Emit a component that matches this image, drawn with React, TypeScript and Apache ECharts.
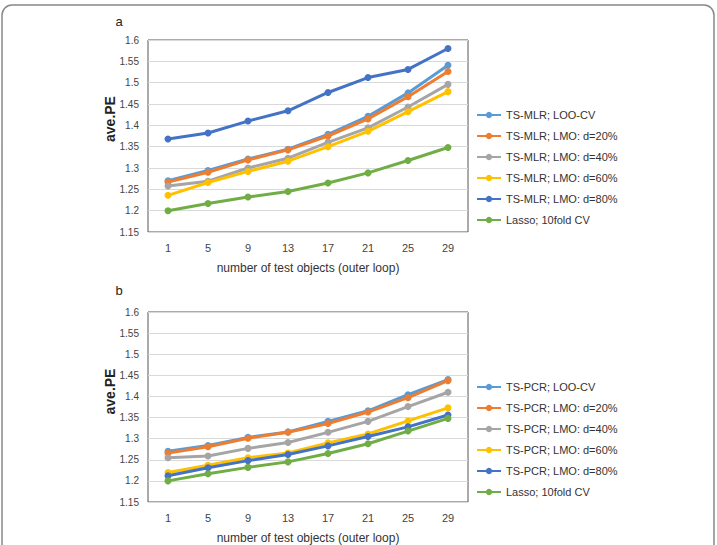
import React, { useEffect, useRef } from "react";
import * as echarts from "echarts";

const categories = ["1", "5", "9", "13", "17", "21", "25", "29"];

const namesA = [
  "TS-MLR; LOO-CV",
  "TS-MLR; LMO: d=20%",
  "TS-MLR; LMO: d=40%",
  "TS-MLR; LMO: d=60%",
  "TS-MLR; LMO: d=80%",
  "Lasso; 10fold CV",
];
const mlrLoo = [1.27, 1.294, 1.321, 1.344, 1.379, 1.421, 1.476, 1.541];
const mlrD20 = [1.267, 1.29, 1.319, 1.3425, 1.375, 1.415, 1.467, 1.526];
const mlrD40 = [1.258, 1.269, 1.3, 1.323, 1.36, 1.394, 1.443, 1.496];
const mlrD60 = [1.236, 1.266, 1.292, 1.316, 1.35, 1.386, 1.432, 1.479];
const mlrD80 = [1.368, 1.382, 1.41, 1.434, 1.477, 1.512, 1.531, 1.58];
const lassoA = [1.2, 1.217, 1.232, 1.245, 1.265, 1.2885, 1.3175, 1.348];

const namesB = [
  "TS-PCR; LOO-CV",
  "TS-PCR; LMO: d=20%",
  "TS-PCR; LMO: d=40%",
  "TS-PCR; LMO: d=60%",
  "TS-PCR; LMO: d=80%",
  "Lasso; 10fold CV ",
];
const pcrLoo = [1.27, 1.284, 1.303, 1.316, 1.341, 1.366, 1.404, 1.44];
const pcrD20 = [1.266, 1.281, 1.301, 1.315, 1.336, 1.363, 1.397, 1.4375];
const pcrD40 = [1.255, 1.259, 1.277, 1.291, 1.315, 1.341, 1.376, 1.41];
const pcrD60 = [1.22, 1.237, 1.255, 1.266, 1.29, 1.311, 1.342, 1.373];
const pcrD80 = [1.212, 1.231, 1.248, 1.2625, 1.283, 1.305, 1.328, 1.356];
const lassoB = [1.2, 1.217, 1.232, 1.245, 1.265, 1.288, 1.318, 1.348];

const colors = ["#5B9BD5", "#ED7D31", "#A5A5A5", "#FFC000", "#4472C4", "#70AD47"];

const FONT = "'Liberation Sans', Arial, Helvetica, sans-serif";

export default function App() {
  const ref = useRef<HTMLDivElement>(null);
  useEffect(() => {
    if (!ref.current) return;
    const chart = echarts.init(ref.current, undefined, { renderer: "svg" });
    const dataA = [mlrLoo, mlrD20, mlrD40, mlrD60, mlrD80, lassoA];
    const dataB = [pcrLoo, pcrD20, pcrD40, pcrD60, pcrD80, lassoB];

    const mkSeries = (names: string[], data: number[][], idx: number) =>
      names.map((n, i) => ({
        name: n,
        type: "line",
        xAxisIndex: idx,
        yAxisIndex: idx,
        data: data[i],
        symbol: "circle",
        symbolSize: 7,
        lineStyle: { width: 3, color: colors[i] },
        itemStyle: { color: colors[i] },
        z: i === 0 ? 2 : 3 + i,
      }));

    const mkX = (gi: number) => ({
      type: "category",
      gridIndex: gi,
      data: categories,
      boundaryGap: true,
      axisLine: { show: false },
      axisTick: { show: false },
      axisLabel: { color: "#444", fontSize: 11, fontFamily: FONT, margin: 10 },
      name: "number of test objects (outer loop)",
      nameLocation: "middle",
      nameGap: 30,
      nameTextStyle: { color: "#333", fontSize: 12, fontFamily: FONT },
    });
    const mkY = (gi: number) => ({
      type: "value",
      gridIndex: gi,
      min: 1.15,
      max: 1.6,
      interval: 0.05,
      axisLine: { show: false },
      axisTick: { show: false },
      axisLabel: {
        color: "#444",
        fontSize: 10,
        fontFamily: FONT,
        margin: 9,
        formatter: (v: number) => String(+v.toFixed(2)),
      },
      splitLine: { lineStyle: { color: "#d9d9d9", width: 1 } },
    });
    const mkLegend = (names: string[], top: number) => ({
      orient: "vertical",
      left: 471,
      top,
      padding: 5,
      itemWidth: 24,
      itemHeight: 8,
      itemGap: 10,
      data: names,
      textStyle: { color: "#333", fontSize: 11, fontFamily: FONT },
    });

    chart.setOption({
      animation: false,
      backgroundColor: "#fff",
      grid: [
        { left: 148, top: 40, width: 320, height: 192, show: true, borderColor: "#555", borderWidth: 1 },
        { left: 148, top: 312, width: 320, height: 192, show: true, borderColor: "#555", borderWidth: 1 },
      ],
      xAxis: [mkX(0), mkX(1)],
      yAxis: [mkY(0), mkY(1)],
      legend: [mkLegend(namesA, 104.5), mkLegend(namesB, 376.5)],
      series: [...mkSeries(namesA, dataA, 0), ...mkSeries(namesB, dataB, 1)],
      graphic: [
        {
          type: "rect",
          shape: { x: 2, y: 5, width: 712, height: 620, r: 10 },
          style: { fill: "none", stroke: "#888", lineWidth: 1.5 },
          silent: true,
        },
        {
          type: "text",
          x: 119,
          y: 21.5,
          style: { text: "a", fontSize: 13, fontFamily: FONT, fill: "#222", textAlign: "center", textVerticalAlign: "middle" },
        },
        {
          type: "text",
          x: 119,
          y: 290,
          style: { text: "b", fontSize: 13, fontFamily: FONT, fill: "#222", textAlign: "center", textVerticalAlign: "middle" },
        },
        {
          type: "text",
          x: 110,
          y: 119,
          rotation: Math.PI / 2,
          style: { text: "ave.PE", fontSize: 14, fontWeight: "bold", fontFamily: FONT, fill: "#222", textAlign: "center", textVerticalAlign: "middle" },
        },
        {
          type: "text",
          x: 110,
          y: 391.5,
          rotation: Math.PI / 2,
          style: { text: "ave.PE", fontSize: 14, fontWeight: "bold", fontFamily: FONT, fill: "#222", textAlign: "center", textVerticalAlign: "middle" },
        },
      ],
    });
    return () => chart.dispose();
  }, []);
  return (
    <div
      ref={ref}
      style={{ position: "fixed", left: 0, top: 0, width: 717, height: 545 }}
    />
  );
}
